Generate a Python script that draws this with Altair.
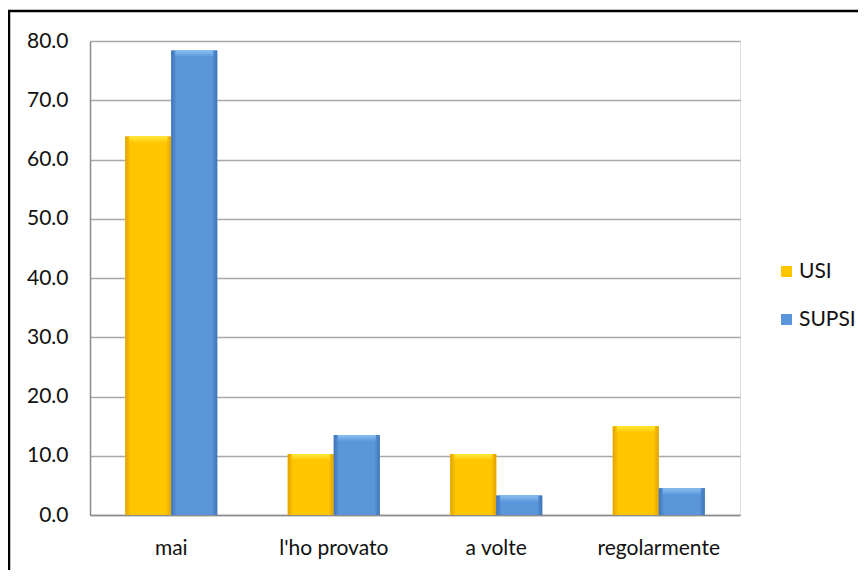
import altair as alt
import pandas as pd

categories = ["mai", "l'ho provato", "a volte", "regolarmente"]
series = ["USI", "SUPSI"]
usi = [63.9, 10.3, 10.3, 15.0]
supsi = [78.4, 13.5, 3.3, 4.5]
y_ticks = [0, 10, 20, 30, 40, 50, 60, 70, 80]

rows = []
for c, u, s in zip(categories, usi, supsi):
    rows.append({"cat": c, "serie": "USI", "val": u})
    rows.append({"cat": c, "serie": "SUPSI", "val": s})
df = pd.DataFrame(rows)

FONT = "Lato"
YEL, BLU = "#FFC600", "#5B96DB"

x_enc = alt.X("cat:N", sort=categories, title=None,
              scale=alt.Scale(paddingInner=0.434, paddingOuter=0.217),
              axis=alt.Axis(labelAngle=0, labelFontSize=21, labelPadding=22, ticks=False,
                            domainColor="#8c8c8c", domainWidth=1.5, labelColor="#111",
                            labelFont=FONT))
xo = alt.XOffset("serie:N", sort=series, scale=alt.Scale(paddingInner=0, paddingOuter=0))
y_enc = alt.Y("val:Q", title=None,
              scale=alt.Scale(domain=[0, 80], nice=False),
              axis=alt.Axis(values=y_ticks, format=".1f", labelFontSize=21, labelPadding=22,
                            ticks=False, domainColor="#8c8c8c", domainWidth=1.5,
                            gridColor="#a9a9a9", gridWidth=1.5, labelColor="#111",
                            labelFont=FONT))

base = alt.Chart(df).mark_bar(size=46).encode(
    x=x_enc, xOffset=xo, y=y_enc,
    color=alt.Color("serie:N", sort=series,
                    scale=alt.Scale(domain=series, range=[YEL, BLU]),
                    legend=alt.Legend(title=None, orient="none", legendX=686, legendY=220,
                                      symbolType="square", symbolSize=120, symbolStrokeWidth=0,
                                      labelFontSize=21, labelFont=FONT, labelColor="#111",
                                      rowPadding=26, labelOffset=2)),
)

def grad_h(edge, mid):
    return alt.Gradient(gradient="linear", x1=0, x2=1, y1=0, y2=0,
                        stops=[alt.GradientStop(color=edge, offset=0),
                               alt.GradientStop(color=mid, offset=0.12),
                               alt.GradientStop(color=mid, offset=0.88),
                               alt.GradientStop(color=edge, offset=1)])

def grad_v(light, mid):
    return alt.Gradient(gradient="linear", x1=0, x2=0, y1=0, y2=1,
                        stops=[alt.GradientStop(color=light, offset=0),
                               alt.GradientStop(color=mid, offset=1)])

layers = [base]
for s, edge, mid, light in [("USI", "#E0A400", YEL, "#FFEA3C"),
                            ("SUPSI", "#3F74B8", BLU, "#8CC0F2")]:
    body = alt.Chart(df).transform_filter(alt.datum.serie == s).mark_bar(
        size=46, fill=grad_h(edge, mid)).encode(x=x_enc, xOffset=xo, y=y_enc)
    top = alt.Chart(df).transform_filter(alt.datum.serie == s).transform_calculate(
        v2="datum.val - 1.1").mark_bar(size=38, fill=grad_v(light, mid)).encode(
        x=x_enc, xOffset=xo, y=y_enc, y2="v2:Q")
    layers += [body, top]

border = alt.Chart(pd.DataFrame({"a": [0]})).mark_rect(
    fill=None, stroke="#000", strokeWidth=2.5).encode(
    x=alt.value(-81), x2=alt.value(800), y=alt.value(-30), y2=alt.value(600))
layers.append(border)

chart = alt.layer(*layers).properties(
    width=650, height=474,
    autosize=alt.AutoSizeParams(type="none"),
    padding={"left": 82, "top": 33, "right": 118, "bottom": 55},
).configure_view(stroke=None).configure(background="white")

chart.save("out.html", embed_options={"renderer": "svg", "actions": False})
